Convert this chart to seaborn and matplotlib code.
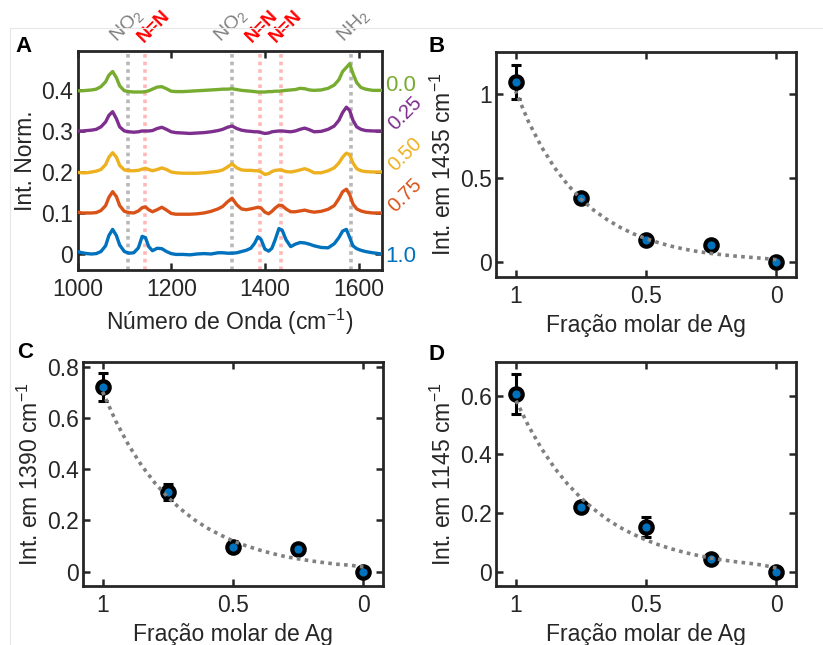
import numpy as np
import pandas as pd
import matplotlib
matplotlib.use("Agg")
import matplotlib.pyplot as plt
import seaborn as sns
from matplotlib.lines import Line2D
import matplotlib.transforms as mtransforms

# ---------------- data: panel A (Raman spectra, relative to offset) ----------------
wavenumber = [1000, 1010, 1020, 1030, 1040, 1050, 1060, 1067, 1075, 1083,
              1090, 1100, 1110, 1120, 1130, 1138, 1145, 1152, 1160, 1170,
              1180, 1190, 1200, 1210, 1225, 1240, 1255, 1270, 1285, 1300,
              1310, 1320, 1330, 1340, 1350, 1360, 1370, 1378, 1385, 1392,
              1400, 1408, 1415, 1422, 1430, 1437, 1445, 1455, 1465, 1475,
              1485, 1495, 1505, 1520, 1535, 1548, 1558, 1566, 1574, 1581,
              1588, 1596, 1605, 1615, 1630, 1650]

spec_ag100 = [0.006, 0.003, 0.001, 0.000, 0.001, 0.006, 0.020, 0.045, 0.060, 0.045,
              0.022, 0.006, 0.002, 0.003, 0.015, 0.043, 0.040, 0.018, 0.008, 0.014,
              0.013, 0.006, 0.001, -0.001, -0.001, -0.002, 0.000, 0.001, 0.000, 0.003,
              0.003, 0.002, 0.002, 0.003, 0.006, 0.009, 0.014, 0.026, 0.042, 0.035,
              0.012, 0.007, 0.014, 0.035, 0.062, 0.058, 0.035, 0.018, 0.024, 0.028,
              0.027, 0.024, 0.020, 0.016, 0.015, 0.025, 0.040, 0.056, 0.060, 0.040,
              0.020, 0.013, 0.009, 0.006, 0.003, 0.000]

spec_ag075 = [0.002, 0.000, 0.000, 0.000, 0.001, 0.006, 0.018, 0.038, 0.052, 0.040,
              0.018, 0.004, 0.001, 0.000, 0.005, 0.013, 0.015, 0.008, 0.003, 0.008,
              0.014, 0.007, -0.001, -0.003, -0.003, -0.003, -0.002, 0.000, 0.004, 0.010,
              0.016, 0.027, 0.036, 0.020, 0.010, 0.008, 0.010, 0.012, 0.014, 0.012,
              0.002, -0.002, 0.004, 0.012, 0.019, 0.018, 0.010, 0.003, 0.003, 0.005,
              0.007, 0.004, 0.002, 0.004, 0.009, 0.018, 0.035, 0.052, 0.058, 0.045,
              0.022, 0.010, 0.005, 0.002, 0.000, 0.000]

spec_ag050 = [-0.001, -0.002, -0.002, 0.000, 0.002, 0.006, 0.018, 0.036, 0.047, 0.036,
              0.016, 0.005, 0.003, 0.003, 0.004, 0.007, 0.009, 0.006, 0.003, 0.006,
              0.010, 0.006, 0.000, -0.002, -0.003, -0.003, -0.003, -0.002, 0.000, 0.002,
              0.005, 0.012, 0.020, 0.010, 0.005, 0.004, 0.004, 0.003, 0.003, 0.000,
              -0.006, -0.004, 0.001, 0.004, 0.005, 0.004, 0.001, 0.000, 0.002, 0.005,
              0.008, 0.004, -0.002, -0.002, 0.003, 0.010, 0.022, 0.036, 0.046, 0.042,
              0.022, 0.008, 0.003, 0.001, 0.000, 0.000]

spec_ag025 = [0.000, 0.000, 0.001, 0.002, 0.004, 0.010, 0.022, 0.038, 0.047, 0.030,
              0.010, 0.000, -0.002, -0.003, -0.002, 0.000, 0.000, 0.000, 0.001, 0.006,
              0.009, 0.004, -0.002, -0.004, -0.005, -0.006, -0.005, -0.004, -0.002, 0.001,
              0.004, 0.009, 0.012, 0.006, 0.002, 0.000, -0.001, -0.002, -0.002, -0.004,
              -0.006, -0.005, -0.002, -0.001, 0.000, 0.000, -0.001, -0.002, 0.000, 0.004,
              0.007, 0.003, -0.002, -0.001, 0.004, 0.012, 0.026, 0.045, 0.058, 0.050,
              0.026, 0.010, 0.004, 0.001, 0.000, 0.000]

spec_ag000 = [-0.002, -0.002, -0.001, 0.000, 0.002, 0.008, 0.020, 0.036, 0.045, 0.030,
              0.010, -0.002, -0.004, -0.005, -0.005, -0.005, -0.004, -0.002, 0.002, 0.007,
              0.008, 0.003, -0.003, -0.004, -0.004, -0.003, -0.002, -0.001, 0.000, 0.001,
              0.002, 0.002, 0.003, 0.001, -0.001, -0.002, -0.003, -0.004, -0.005, -0.005,
              -0.005, -0.004, -0.004, -0.003, -0.003, -0.002, -0.001, 0.000, 0.001, 0.004,
              0.003, 0.000, -0.001, 0.000, 0.004, 0.012, 0.025, 0.045, 0.055, 0.064,
              0.040, 0.018, 0.006, 0.002, -0.001, -0.001]

spectra = [spec_ag100, spec_ag075, spec_ag050, spec_ag025, spec_ag000]
spec_offsets = [0.0, 0.1, 0.2, 0.3, 0.4]
spec_labels = ["1.0", "0.75", "0.50", "0.25", "0.0"]
spec_colors = ["#0072BD", "#D95319", "#EDB120", "#7E2F8E", "#77AC30"]

band_positions = [1108, 1145, 1330, 1390, 1435, 1583]
band_names = ["NO$_2$", "N=N", "NO$_2$", "N=N", "N=N", "NH$_2$"]
band_kind = ["g", "r", "g", "r", "r", "g"]
band_label_x = [1105, 1164, 1327, 1393, 1446, 1588]

# ---------------- data: panels B, C, D ----------------
ag_fraction = [1.0, 0.75, 0.5, 0.25, 0.0]

int_1435 = [1.07, 0.38, 0.133, 0.103, 0.0]
err_1435 = [0.10, 0.02, 0.02, 0.02, 0.01]
int_1390 = [0.72, 0.311, 0.098, 0.088, 0.0]
err_1390 = [0.055, 0.03, 0.02, 0.02, 0.01]
int_1145 = [0.605, 0.22, 0.153, 0.042, 0.0]
err_1145 = [0.068, 0.01, 0.035, 0.01, 0.01]

fit_x = [0.0, 0.05, 0.1, 0.15, 0.2, 0.25, 0.3, 0.35, 0.4, 0.45, 0.5,
         0.55, 0.6, 0.65, 0.7, 0.75, 0.8, 0.85, 0.9, 0.95, 1.0]
fit_1435 = [0.015, 0.023, 0.029, 0.035, 0.043, 0.052, 0.063, 0.077, 0.094, 0.115, 0.140,
            0.170, 0.208, 0.254, 0.309, 0.377, 0.460, 0.561, 0.684, 0.834, 1.017]
fit_1390 = [0.018, 0.025, 0.029, 0.035, 0.042, 0.050, 0.059, 0.071, 0.085, 0.101, 0.120,
            0.144, 0.171, 0.204, 0.244, 0.291, 0.347, 0.414, 0.494, 0.589, 0.703]
fit_1145 = [0.012, 0.022, 0.028, 0.033, 0.039, 0.046, 0.055, 0.065, 0.077, 0.091, 0.108,
            0.128, 0.151, 0.179, 0.213, 0.252, 0.298, 0.353, 0.419, 0.496, 0.587]

# ---------------- style ----------------
sns.set_theme(style="white")
plt.rcParams["font.family"] = ["Liberation Sans", "DejaVu Sans"]
plt.rcParams["mathtext.fontset"] = "custom"
plt.rcParams["mathtext.rm"] = "Liberation Sans"
plt.rcParams["mathtext.it"] = "Liberation Sans:italic"
plt.rcParams["mathtext.bf"] = "Liberation Sans:bold"
plt.rcParams["mathtext.default"] = "regular"

INK = "#262626"
FS = 16.5

fig = plt.figure(figsize=(8.23, 6.45), dpi=100)
W, H = 823, 645

# faint frame lines (screenshot border)
fig.add_artist(Line2D([10 / W, 1], [1 - 28 / H, 1 - 28 / H], transform=fig.transFigure,
                      color="#e6e6e6", lw=0.8))
fig.add_artist(Line2D([10 / W, 10 / W], [0, 1 - 28 / H], transform=fig.transFigure,
                      color="#e6e6e6", lw=0.8))


def px_axes(left, top, right, bottom):
    return fig.add_axes([left / W, 1 - bottom / H, (right - left) / W, (bottom - top) / H])


def style_ax(ax):
    for s in ax.spines.values():
        s.set_visible(True)
        s.set_color(INK)
        s.set_linewidth(2.0)
    ax.tick_params(direction="in", length=5, width=1.8, colors=INK, labelsize=FS,
                   top=True, right=True, bottom=True, left=True)
    ax.tick_params(axis="x", pad=6)
    ax.tick_params(axis="y", pad=3)
    ax.grid(False)


# ---------------- Panel A ----------------
axA = px_axes(77.5, 51, 382, 270)
style_ax(axA)
for pos, kind in zip(band_positions, band_kind):
    axA.axvline(pos, color="#b8b8b8" if kind == "g" else "#ffb8b8",
                lw=2.6, ls=(0, (1, 1.1)), zorder=1)

for spec, off, col in zip(spectra, spec_offsets, spec_colors):
    df = pd.DataFrame({"wn": wavenumber, "I": np.array(spec) + off})
    sns.lineplot(data=df, x="wn", y="I", ax=axA, color=col, lw=2.4, zorder=3)

axA.set_xlim(1000, 1650)
axA.set_ylim(-0.039, 0.495)
axA.set_xticks([1000, 1200, 1400, 1600])
axA.set_yticks([0, 0.1, 0.2, 0.3, 0.4])
axA.set_yticklabels(["0", "0.1", "0.2", "0.3", "0.4"])
axA.set_xlabel("Número de Onda (cm$^{-1}$)", fontsize=FS, color=INK, labelpad=4)
axA.set_ylabel("Int. Norm.", fontsize=FS, color=INK, labelpad=3)

trA = mtransforms.blended_transform_factory(axA.transData, axA.transAxes)
for lx, name, kind in zip(band_label_x, band_names, band_kind):
    if kind == "g":
        axA.text(lx, 1.025, name, transform=trA, rotation=45, ha="center", va="bottom",
                 color="#7f7f7f", fontsize=14)
    else:
        axA.text(lx, 1.025, name, transform=trA, rotation=45, ha="center", va="bottom",
                 color="#ff0000", fontsize=13.5, fontweight="bold")

trR = mtransforms.blended_transform_factory(axA.transAxes, axA.transData)
for lab, off, col in zip(spec_labels, spec_offsets, spec_colors):
    if lab in ("0.0", "1.0"):
        axA.text(1.01, off + (0.012 if lab == "0.0" else -0.006), lab, transform=trR,
                 ha="left", va="center", color=col, fontsize=16)
    else:
        axA.text(1.008, off - 0.007, lab, transform=trR, rotation=45,
                 ha="left", va="bottom", color=col, fontsize=14.5)

fig.text(15 / W, 1 - 46 / H, "A", fontsize=16, fontweight="bold", color="black",
         ha="left", va="center")


# ---------------- Panels B, C, D ----------------
def fraction_panel(ax, vals, errs, fit, ylim, yticks, yticklabels, ylabel):
    style_ax(ax)
    ax.errorbar(ag_fraction, vals, yerr=errs, fmt="none", ecolor="black",
                elinewidth=2.2, capsize=3.5, capthick=2.2, zorder=2)
    df = pd.DataFrame({"x": ag_fraction, "y": vals})
    sns.scatterplot(data=df, x="x", y="y", ax=ax, s=80, color="#0072BD",
                    edgecolor="black", linewidth=3.0, zorder=3)
    dff = pd.DataFrame({"x": fit_x, "y": fit})
    sns.lineplot(data=dff, x="x", y="y", ax=ax, color="#808080", lw=2.6,
                 ls=(0, (1, 1.2)), zorder=4)
    ax.set_xlim(1.075, -0.075)
    ax.set_ylim(*ylim)
    ax.set_xticks([1, 0.5, 0])
    ax.set_xticklabels(["1", "0.5", "0"])
    ax.set_yticks(yticks)
    ax.set_yticklabels(yticklabels)
    ax.set_xlabel("Fração molar de Ag", fontsize=FS, color=INK, labelpad=4)
    ax.set_ylabel(ylabel, fontsize=FS, color=INK, labelpad=3)


axB = px_axes(496, 52, 796, 277)
fraction_panel(axB, int_1435, err_1435, fit_1435, (-0.088, 1.25), [0, 0.5, 1],
               ["0", "0.5", "1"], "Int. em 1435 cm$^{-1}$")
fig.text(428 / W, 1 - 46 / H, "B", fontsize=16, fontweight="bold", color="black",
         ha="left", va="center")

axC = px_axes(83, 361.7, 383, 586)
fraction_panel(axC, int_1390, err_1390, fit_1390, (-0.056, 0.82), [0, 0.2, 0.4, 0.6, 0.8],
               ["0", "0.2", "0.4", "0.6", "0.8"], "Int. em 1390 cm$^{-1}$")
fig.text(17 / W, 1 - 352 / H, "C", fontsize=16, fontweight="bold", color="black",
         ha="left", va="center")

axD = px_axes(496, 361.7, 796, 586)
fraction_panel(axD, int_1145, err_1145, fit_1145, (-0.049, 0.716), [0, 0.2, 0.4, 0.6],
               ["0", "0.2", "0.4", "0.6"], "Int. em 1145 cm$^{-1}$")
fig.text(428 / W, 1 - 354 / H, "D", fontsize=16, fontweight="bold", color="black",
         ha="left", va="center")

fig.savefig("out.png", dpi=100, facecolor="white")
